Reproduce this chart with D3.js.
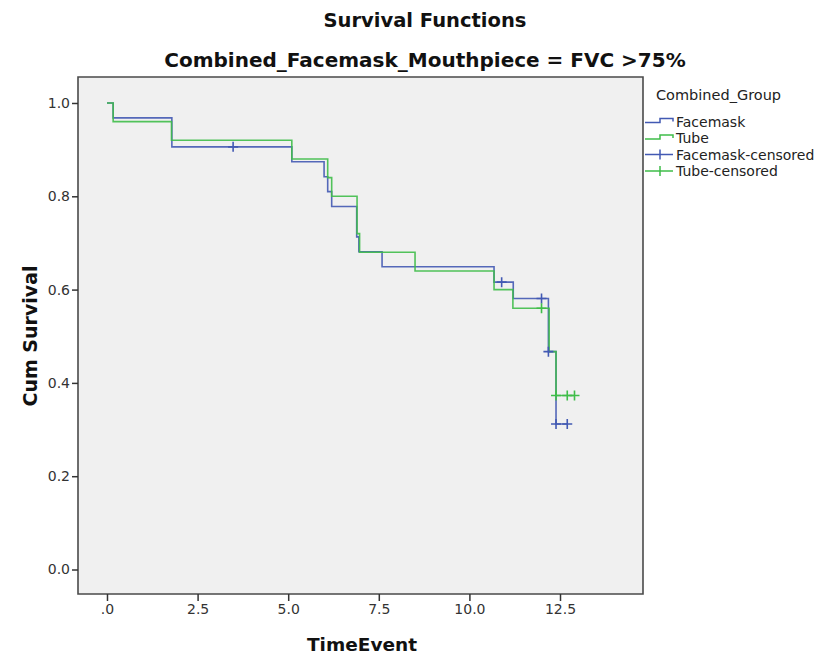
<!DOCTYPE html>
<html>
<head>
<meta charset="utf-8">
<script src="https://cdn.jsdelivr.net/npm/d3@7"></script>
<style>
  html, body { margin: 0; padding: 0; background: #ffffff; }
  svg { display: block; }
</style>
</head>
<body>
<svg id="chart" width="821" height="654"></svg>
<script>
// Kaplan-Meier step data per group: event times and survival after each event
const facemaskTimes = [0, 0.17, 1.79, 5.10, 5.99, 6.09, 6.20, 6.89, 6.95, 7.59, 10.68, 11.21, 12.18, 12.39];
const facemaskSurv  = [1.0, 0.968, 0.906, 0.874, 0.842, 0.810, 0.778, 0.713, 0.681, 0.649, 0.616, 0.581, 0.467, 0.312];
const facemaskCensored = [3.48, 10.89, 11.99, 12.18, 12.39, 12.70];

const tubeTimes = [0, 0.17, 1.78, 5.10, 6.09, 6.20, 6.90, 6.97, 8.50, 10.68, 11.20, 12.20, 12.39];
const tubeSurv  = [1.0, 0.96, 0.92, 0.88, 0.84, 0.80, 0.72, 0.68, 0.64, 0.60, 0.56, 0.467, 0.373];
const tubeCensored = [11.99, 12.39, 12.70, 12.90];

const legendLabels = ["Facemask", "Tube", "Facemask-censored", "Tube-censored"];
const xTicks = [0, 2.5, 5, 7.5, 10, 12.5];
const yTicks = [0, 0.2, 0.4, 0.6, 0.8, 1.0];

const colors = { Facemask: "#4259b3", Tube: "#3fbd49" };
const titleFont = "'DejaVu Sans', sans-serif";

const svg = d3.select("#chart");
const plot = { left: 78, top: 77, right: 643, bottom: 594 };

const x = d3.scaleLinear().domain([-0.8, 14.79]).range([plot.left, plot.right]);
const y = d3.scaleLinear().domain([-0.0525, 1.0557]).range([plot.bottom, plot.top]);

// plot background
svg.append("rect")
  .attr("x", plot.left).attr("y", plot.top)
  .attr("width", plot.right - plot.left).attr("height", plot.bottom - plot.top)
  .attr("fill", "#f0f0f0");

// titles
svg.append("text")
  .attr("x", 425).attr("y", 27)
  .attr("text-anchor", "middle")
  .attr("font-family", titleFont)
  .attr("font-weight", "bold").attr("font-size", 19.5)
  .attr("fill", "#111")
  .text("Survival Functions");
svg.append("text")
  .attr("x", 425).attr("y", 67)
  .attr("text-anchor", "middle")
  .attr("font-family", titleFont)
  .attr("font-weight", "bold").attr("font-size", 20)
  .attr("fill", "#111")
  .text("Combined_Facemask_Mouthpiece = FVC >75%");

// build series
function stepValue(times, surv, t) {
  let v = surv[0];
  for (let i = 0; i < times.length; i++) if (times[i] <= t) v = surv[i];
  return v;
}
const series = [
  { name: "Facemask", times: facemaskTimes, surv: facemaskSurv, censored: facemaskCensored },
  { name: "Tube", times: tubeTimes, surv: tubeSurv, censored: tubeCensored }
];

const line = d3.line()
  .x(d => x(d[0])).y(d => y(d[1]))
  .curve(d3.curveStepAfter);

const g = svg.append("g");
series.forEach(s => {
  const pts = s.times.map((t, i) => [t, s.surv[i]]);
  const endT = d3.max(s.censored.concat(s.times));
  pts.push([endT, s.surv[s.surv.length - 1]]);
  g.append("path")
    .attr("d", line(pts))
    .attr("fill", "none")
    .attr("stroke", colors[s.name])
    .attr("stroke-width", 1.6)
    .attr("stroke-opacity", 0.9);
});
// censor marks
series.forEach(s => {
  s.censored.forEach(t => {
    const cx = x(t), cy = y(stepValue(s.times, s.surv, t));
    g.append("path")
      .attr("d", `M${cx - 5},${cy}H${cx + 5}M${cx},${cy - 5}V${cy + 5}`)
      .attr("stroke", colors[s.name])
      .attr("stroke-width", 1.6)
      .attr("fill", "none");
  });
});

// frame
svg.append("path")
  .attr("d", `M${plot.left},${plot.top}H${plot.right}V${plot.bottom}H${plot.left}Z`)
  .attr("fill", "none").attr("stroke", "#4a4a4a").attr("stroke-width", 1.6);

// axes
const tickFont = "'DejaVu Sans', sans-serif";
const yAxis = svg.append("g")
  .attr("transform", `translate(${plot.left},0)`)
  .call(d3.axisLeft(y).tickValues(yTicks).tickFormat(d3.format(".1f")).tickSizeOuter(0).tickSize(6).tickPadding(2));
const xAxis = svg.append("g")
  .attr("transform", `translate(0,${plot.bottom})`)
  .call(d3.axisBottom(x).tickValues(xTicks)
    .tickFormat(d => d === 0 ? ".0" : d3.format(".1f")(d))
    .tickSizeOuter(0).tickSize(7).tickPadding(3));
[xAxis, yAxis].forEach(a => {
  a.select(".domain").remove();
  a.selectAll(".tick line").attr("stroke", "#333").attr("stroke-width", 1.5);
  a.selectAll(".tick text")
    .attr("font-family", tickFont).attr("font-size", 14).attr("fill", "#333");
});

// axis titles
svg.append("text")
  .attr("transform", "translate(37,336) rotate(-90)")
  .attr("text-anchor", "middle")
  .attr("font-family", titleFont)
  .attr("font-weight", "bold").attr("font-size", 19).attr("fill", "#111")
  .text("Cum Survival");
svg.append("text")
  .attr("x", 362).attr("y", 651)
  .attr("text-anchor", "middle")
  .attr("font-family", titleFont)
  .attr("font-weight", "bold").attr("font-size", 18.5).attr("fill", "#111")
  .text("TimeEvent");

// legend
const legend = svg.append("g");
legend.append("text")
  .attr("x", 656).attr("y", 100)
  .attr("font-family", "'DejaVu Sans', sans-serif")
  .attr("font-size", 14.5).attr("fill", "#222")
  .text("Combined_Group");
legendLabels.forEach((lab, i) => {
  const cy = 121.5 + i * 16.5;
  const col = i % 2 === 0 ? colors.Facemask : colors.Tube;
  if (i < 2) {
    legend.append("path")
      .attr("d", `M645,${cy + 1}H660V${cy - 3}H673V${cy}`)
      .attr("fill", "none").attr("stroke", col).attr("stroke-width", 1.5);
  } else {
    legend.append("path")
      .attr("d", `M645,${cy}H673M660,${cy - 5}V${cy + 5}`)
      .attr("fill", "none").attr("stroke", col).attr("stroke-width", 1.5);
  }
  legend.append("text")
    .attr("x", 676).attr("y", cy + 5)
    .attr("font-family", "'DejaVu Sans', sans-serif")
    .attr("font-size", 14).attr("fill", "#222")
    .text(lab);
});
</script>
</body>
</html>
